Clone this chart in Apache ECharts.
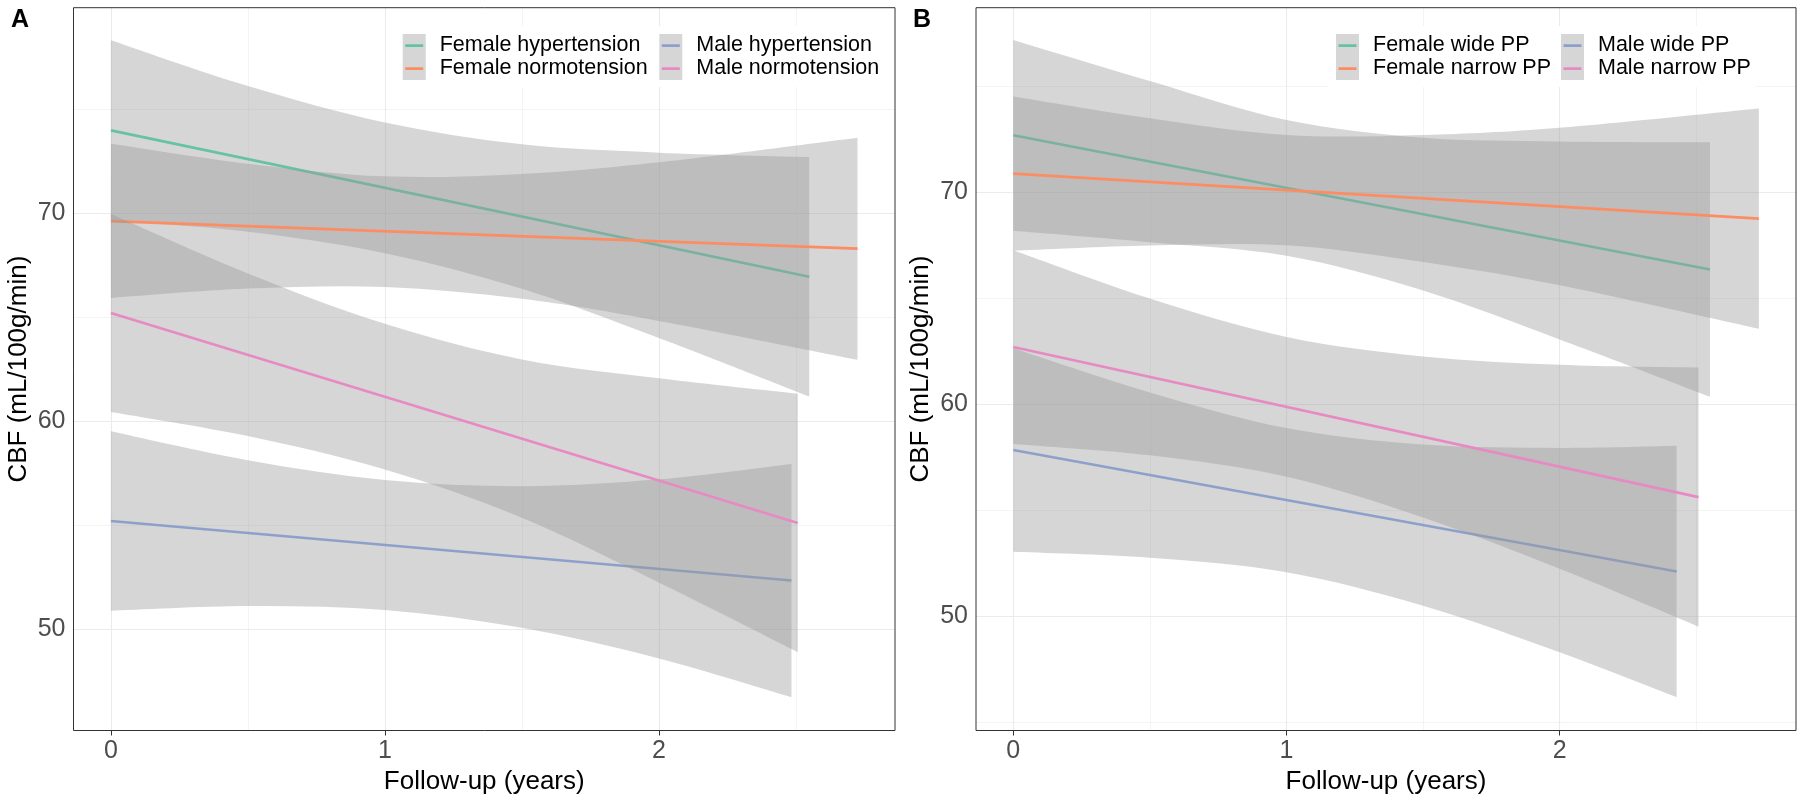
<!DOCTYPE html>
<html>
<head>
<meta charset="utf-8">
<script src="https://cdn.jsdelivr.net/npm/echarts@6/dist/echarts.min.js"></script>
<style>
html,body{margin:0;padding:0;background:#ffffff;}
#chart{width:1804px;height:800px;}
</style>
</head>
<body>
<div id="chart"></div>
<script>
// ---------------- data ----------------
const groupColors = ['#66C2A5', '#FC8D62', '#8DA0CB', '#E78AC3'];

// Panel A
const aNames = ['Female hypertension', 'Female normotension', 'Male hypertension', 'Male normotension'];
const aFH_x  = [0, 0.5, 1, 1.5, 2, 2.549];
const aFH_lo = [69.65, 69.10, 68.07, 66.36, 64.00, 61.19];
const aFH_hi = [78.30, 76.10, 74.35, 73.30, 72.90, 72.69];
const aFH_fitX = [0, 2.549];
const aFH_fitY = [73.97, 66.94];

const aFN_x  = [0, 0.5, 1, 1.5, 2, 2.725];
const aFN_lo = [65.92, 66.37, 66.45, 65.88, 64.82, 62.95];
const aFN_hi = [73.33, 72.37, 71.76, 71.88, 72.44, 73.62];
const aFN_fitX = [0, 2.725];
const aFN_fitY = [69.61, 68.29];

const aMH_x  = [0, 0.5, 1, 1.5, 2, 2.484];
const aMH_lo = [50.90, 51.13, 50.94, 50.08, 48.61, 46.75];
const aMH_hi = [59.52, 58.13, 57.18, 56.88, 57.21, 57.95];
const aMH_fitX = [0, 2.484];
const aMH_fitY = [55.21, 52.35];

const aMN_x  = [0, 0.5, 1, 1.5, 2, 2.507];
const aMN_lo = [60.45, 59.29, 57.68, 55.37, 52.26, 48.92];
const aMN_hi = [69.95, 67.10, 64.68, 62.97, 62.06, 61.32];
const aMN_fitX = [0, 2.507];
const aMN_fitY = [65.20, 55.12];

// Panel B
const bNames = ['Female wide PP', 'Female narrow PP', 'Male wide PP', 'Male narrow PP'];
const bFW_x  = [0, 0.5, 1, 1.5, 2, 2.55];
const bFW_lo = [68.20, 67.66, 67.02, 65.38, 63.07, 60.37];
const bFW_hi = [77.20, 75.26, 73.42, 72.58, 72.41, 72.37];
const bFW_fitX = [0, 2.55];
const bFW_fitY = [72.70, 66.37];

const bFN_x  = [0, 0.5, 1, 1.5, 2, 2.729];
const bFN_lo = [67.25, 67.50, 67.51, 66.72, 65.62, 63.57];
const bFN_hi = [74.53, 73.50, 72.71, 72.72, 73.06, 73.97];
const bFN_fitX = [0, 2.729];
const bFN_fitY = [70.89, 68.77];

const bMW_x  = [0, 0.5, 1, 1.5, 2, 2.428];
const bMW_lo = [53.05, 52.77, 52.09, 50.51, 48.31, 46.19];
const bMW_hi = [62.65, 60.57, 58.89, 58.11, 57.95, 58.05];
const bMW_fitX = [0, 2.428];
const bMW_fitY = [57.85, 52.12];

const bMN_x  = [0, 0.5, 1, 1.5, 2, 2.508];
const bMN_lo = [58.14, 57.60, 56.59, 54.67, 52.25, 49.52];
const bMN_hi = [67.28, 65.00, 63.19, 62.27, 61.87, 61.74];
const bMN_fitX = [0, 2.508];
const bMN_fitY = [62.71, 55.63];

// axes
const xTicks = [0, 1, 2];
const xMinor = [0.5, 1.5, 2.5];
const yTicks = [50, 60, 70];
const aYMinor = [55, 65, 75];
const bYMinor = [45, 55, 65, 75];
const aXRange = [-0.1365, 2.862];
const aYRange = [45.15, 79.86];
const bXRange = [-0.1365, 2.865];
const bYRange = [44.62, 78.72];
const xTitle = 'Follow-up (years)';
const yTitle = 'CBF (mL/100g/min)';
const panelTags = ['A', 'B'];

// ---------------- build ----------------
const FONT = 'Liberation Sans';
const aGroups = [
  [aFH_x, aFH_lo, aFH_hi, aFH_fitX, aFH_fitY],
  [aFN_x, aFN_lo, aFN_hi, aFN_fitX, aFN_fitY],
  [aMH_x, aMH_lo, aMH_hi, aMH_fitX, aMH_fitY],
  [aMN_x, aMN_lo, aMN_hi, aMN_fitX, aMN_fitY]
];
const bGroups = [
  [bFW_x, bFW_lo, bFW_hi, bFW_fitX, bFW_fitY],
  [bFN_x, bFN_lo, bFN_hi, bFN_fitX, bFN_fitY],
  [bMW_x, bMW_lo, bMW_hi, bMW_fitX, bMW_fitY],
  [bMN_x, bMN_lo, bMN_hi, bMN_fitX, bMN_fitY]
];

function gridSeries(gi, yMinor) {
  const major = 1.1, minor = 0.55;
  const d = [];
  xTicks.forEach(v => d.push({xAxis: v, lineStyle: {width: major}}));
  xMinor.forEach(v => d.push({xAxis: v, lineStyle: {width: minor}}));
  yTicks.forEach(v => d.push({yAxis: v, lineStyle: {width: major}}));
  yMinor.forEach(v => d.push({yAxis: v, lineStyle: {width: minor}}));
  return {
    type: 'line', xAxisIndex: gi, yAxisIndex: gi, data: [], silent: true, z: 1,
    markLine: {
      silent: true, z: 1, symbol: ['none', 'none'], animation: false,
      label: {show: false},
      lineStyle: {color: '#EBEBEB', type: 'solid'},
      emphasis: {disabled: true},
      data: d
    }
  };
}

// Catmull-Rom spline through pixel points (rendering only)
function splinePath(pts) {
  let s = '';
  for (let i = 0; i < pts.length - 1; i++) {
    const p0 = pts[i - 1] || pts[i];
    const p1 = pts[i];
    const p2 = pts[i + 1];
    const p3 = pts[i + 2] || pts[i + 1];
    const c1x = p1[0] + (p2[0] - p0[0]) / 6, c1y = p1[1] + (p2[1] - p0[1]) / 6;
    const c2x = p2[0] - (p3[0] - p1[0]) / 6, c2y = p2[1] - (p3[1] - p1[1]) / 6;
    s += ' C' + c1x + ',' + c1y + ' ' + c2x + ',' + c2y + ' ' + p2[0] + ',' + p2[1];
  }
  return s;
}

function ribbonSeries(gi, x, lo, hi, z) {
  return {
    type: 'custom', xAxisIndex: gi, yAxisIndex: gi, silent: true, z: z,
    data: x.map((v, i) => [v, lo[i], hi[i]]),
    encode: {x: 0, y: [1, 2]},
    renderItem: function (params, api) {
      if (params.dataIndex !== 0) return null;
      const up = x.map((v, i) => api.coord([v, hi[i]]));
      const dn = x.map((v, i) => api.coord([v, lo[i]])).reverse();
      const d = 'M' + up[0][0] + ',' + up[0][1] + splinePath(up) +
                ' L' + dn[0][0] + ',' + dn[0][1] + splinePath(dn) + ' Z';
      return {type: 'path', shape: {pathData: d}, style: {fill: 'rgba(153,153,153,0.4)', stroke: null}};
    }
  };
}

function panelSeries(gi, groups, names) {
  const out = [];
  groups.forEach((g, k) => {
    const [x, lo, hi, fx, fy] = g;
    out.push(ribbonSeries(gi, x, lo, hi, 3 + 2 * k));
    out.push({
      type: 'line', name: names[k], xAxisIndex: gi, yAxisIndex: gi,
      symbol: 'none', silent: true, z: 4 + 2 * k,
      itemStyle: {color: groupColors[k]},
      lineStyle: {color: groupColors[k], width: 2.6},
      data: fx.map((v, i) => [v, fy[i]])
    });
  });
  return out;
}

function xAxisDef(gi, range) {
  return {
    gridIndex: gi, type: 'value', min: range[0], max: range[1],
    axisLine: {show: false}, splitLine: {show: false},
    axisTick: {show: true, customValues: xTicks, length: 5, lineStyle: {color: '#333333', width: 1}},
    axisLabel: {customValues: xTicks, fontSize: 25, color: '#4D4D4D', margin: 8, fontFamily: FONT},
    name: xTitle, nameLocation: 'middle', nameGap: 36,
    nameTextStyle: {fontSize: 26, color: '#000000', fontFamily: FONT}
  };
}
function yAxisDef(gi, range) {
  return {
    gridIndex: gi, type: 'value', min: range[0], max: range[1],
    axisLine: {show: false}, splitLine: {show: false},
    axisTick: {show: true, customValues: yTicks, length: 5, lineStyle: {color: '#333333', width: 1}},
    axisLabel: {customValues: yTicks, fontSize: 25, color: '#4D4D4D', margin: 8, fontFamily: FONT},
    name: yTitle, nameLocation: 'middle', nameGap: 42,
    nameTextStyle: {fontSize: 26, color: '#000000', fontFamily: FONT}
  };
}

const BG_ICON = 'path://M0,0h23v23h-23z M31.99,22.99h0.01v0.01h-0.01z';
const LINE_ICON = 'path://M0,0h0.01v0.01h-0.01z M2.5,10.3h18v2.6h-18z M31.99,22.99h0.01v0.01h-0.01z';

function legendPair(names, left, top) {
  const base = {
    orient: 'vertical', left: left, top: top, padding: 0, itemGap: 0,
    itemWidth: 32, itemHeight: 23, selectedMode: false, z: 15,
    data: names
  };
  return [
    Object.assign({}, base, {
      icon: BG_ICON,
      itemStyle: {color: '#D6D6D6', borderWidth: 0},
      textStyle: {fontSize: 21.5, color: '#000000', fontFamily: FONT, lineHeight: 23}
    }),
    Object.assign({}, base, {
      icon: LINE_ICON, z: 16,
      itemStyle: {borderWidth: 0},
      textStyle: {fontSize: 21.5, color: 'rgba(0,0,0,0)', fontFamily: FONT, lineHeight: 23}
    })
  ];
}

const option = {
  backgroundColor: '#ffffff',
  animation: false,
  title: [
    {text: panelTags[0], left: 11, top: 8, padding: 0, textStyle: {fontSize: 25, fontWeight: 'bold', color: '#000000', fontFamily: FONT}},
    {text: panelTags[1], left: 913, top: 8, padding: 0, textStyle: {fontSize: 25, fontWeight: 'bold', color: '#000000', fontFamily: FONT}}
  ],
  grid: [
    {left: 73.5, top: 7.7, width: 821.5, height: 722.8, show: true, backgroundColor: 'transparent', borderColor: '#333333', borderWidth: 1, z: 20},
    {left: 976, top: 7.7, width: 820, height: 722.8, show: true, backgroundColor: 'transparent', borderColor: '#333333', borderWidth: 1, z: 20}
  ],
  xAxis: [xAxisDef(0, aXRange), xAxisDef(1, bXRange)],
  yAxis: [yAxisDef(0, aYRange), yAxisDef(1, bYRange)],
  legend: [].concat(
    legendPair(aNames.slice(0, 2), 402.7, 34),
    legendPair(aNames.slice(2, 4), 659.3, 34),
    legendPair(bNames.slice(0, 2), 1336, 34),
    legendPair(bNames.slice(2, 4), 1561, 34)
  ),
  graphic: [
    {type: 'rect', z: 12, silent: true, shape: {x: 394.7, y: 26, width: 491.3, height: 61}, style: {fill: '#ffffff'}},
    {type: 'rect', z: 12, silent: true, shape: {x: 1328, y: 26, width: 428, height: 61}, style: {fill: '#ffffff'}}
  ],
  series: [].concat(
    [gridSeries(0, aYMinor), gridSeries(1, bYMinor)],
    panelSeries(0, aGroups, aNames),
    panelSeries(1, bGroups, bNames)
  )
};

const chart = echarts.init(document.getElementById('chart'), null, {renderer: 'canvas'});
chart.setOption(option);
</script>
</body>
</html>
